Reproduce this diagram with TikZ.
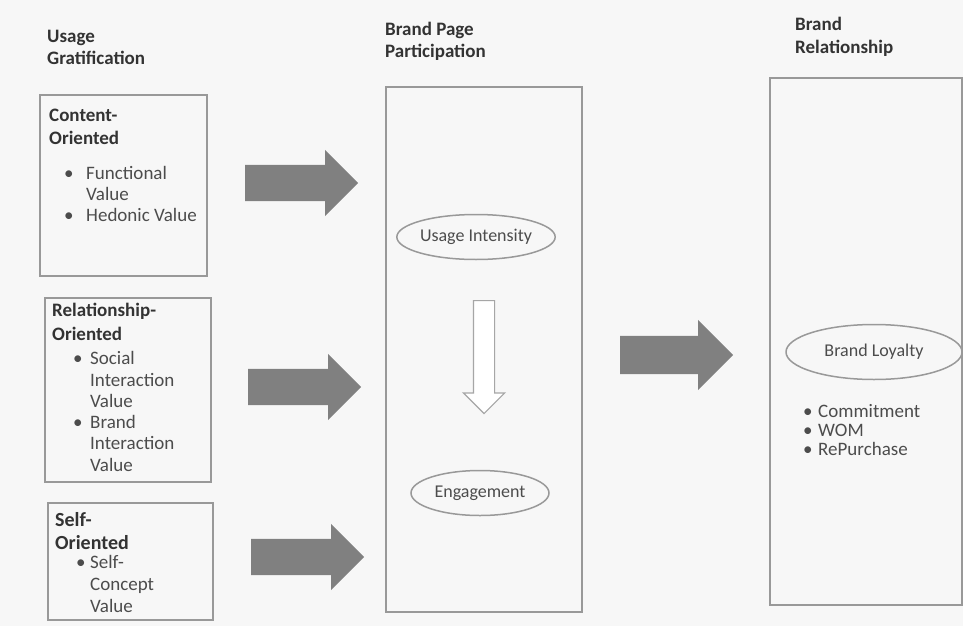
\documentclass[tikz,border=0pt]{standalone}
\usepackage{fontspec}
\setmainfont{Carlito}
\usetikzlibrary{shapes.geometric,shapes.arrows}

\begin{document}
\begin{tikzpicture}
[every node/.style={inner sep=0pt},
 title/.style={anchor=base west, font=\bfseries\fontsize{19}{22}\selectfont, text=black!80},
 head/.style={anchor=base west, font=\bfseries\fontsize{19}{22}\selectfont, text=black!80},
 body/.style={anchor=base west, font=\fontsize{19}{23}\selectfont, text=black!70},
 frame/.style={rectangle, draw=black!40, line width=1.5pt},
 oval/.style={ellipse, draw=black!40, line width=1.5pt, font=\fontsize{18}{22}\selectfont, text=black!70},
 bigarrow/.style={single arrow, anchor=tail, fill=black!50, inner xsep=0pt, inner ysep=18pt, single arrow head extend=15pt, single arrow head indent=0pt, minimum height=113pt},
 hollowarrow/.style={single arrow, anchor=tail, draw=black!35, fill=white, line width=1.2pt, inner xsep=10pt, inner ysep=0pt, single arrow head extend=10pt, single arrow head indent=0pt, minimum height=113pt, shape border rotate=270}]
\fill [black!3] (0pt, 0pt) rectangle (963pt, -626pt);
\useasboundingbox (0pt, 0pt) rectangle (963pt, -626pt);
% column titles
\node (t1a) [title] at (47pt, -43pt) {Usage};
\node (t1b) [title] at (47pt, -64pt) {Gratification};
\node (t2a) [title] at (385pt, -36pt) {Brand Page};
\node (t2b) [title] at (385pt, -58pt) {Participation};
\node (t3a) [title] at (795pt, -31pt) {Brand};
\node (t3b) [title] at (795pt, -53pt) {Relationship};
% frames
\node (content) [frame, minimum width=167pt, minimum height=181pt] at (123.5pt, -185.5pt) {};
\node (relation) [frame, minimum width=166pt, minimum height=184pt] at (128pt, -390pt) {};
\node (self) [frame, minimum width=165pt, minimum height=117pt] at (130.5pt, -561.5pt) {};
\node (page) [frame, minimum width=196pt, minimum height=525pt] at (484pt, -349.5pt) {};
\node (brand) [frame, minimum width=192pt, minimum height=527pt] at (866pt, -341.5pt) {};
% content oriented
\node (c1) [head] at (49pt, -121pt) {Content-};
\node (c2) [head] at (49pt, -144pt) {Oriented};
\node (cb1) [body] at (64pt, -179pt) {•};
\node (cf1) [body] at (86pt, -179pt) {Functional};
\node (cf2) [body] at (86pt, -200pt) {Value};
\node (cb2) [body] at (64pt, -221pt) {•};
\node (ch) [body] at (86pt, -221pt) {Hedonic Value};
% relationship oriented
\node (r1) [head] at (52pt, -316pt) {Relationship-};
\node (r2) [head] at (52pt, -340pt) {Oriented};
\node (rb1) [body] at (73pt, -364pt) {•};
\node (rs1) [body] at (90pt, -364pt) {Social};
\node (rs2) [body] at (90pt, -386pt) {Interaction};
\node (rs3) [body] at (90pt, -407pt) {Value};
\node (rb2) [body] at (73pt, -428pt) {•};
\node (ri1) [body] at (90pt, -428pt) {Brand};
\node (ri2) [body] at (90pt, -449pt) {Interaction};
\node (ri3) [body] at (90pt, -471pt) {Value};
% self oriented
\node (s1) [head, font=\bfseries\fontsize{20}{24}\selectfont] at (55pt, -526pt) {Self-};
\node (s2) [head, font=\bfseries\fontsize{20}{24}\selectfont] at (55pt, -549pt) {Oriented};
\node (sb1) [body] at (76pt, -568pt) {•};
\node (sc1) [body] at (90pt, -568pt) {Self-};
\node (sc2) [body] at (90pt, -590pt) {Concept};
\node (sc3) [body] at (90pt, -612pt) {Value};
% brand page participation
\node (usage) [oval, minimum width=138pt, minimum height=45pt] at (476pt, -237pt) {Usage Intensity};
\node (engage) [oval, minimum width=138pt, minimum height=45pt] at (480pt, -493pt) {Engagement};
\node (down) [hollowarrow] at (484pt, -300pt) {};
% brand relationship
\node (loyal) [oval, minimum width=176pt, minimum height=55pt] at (874pt, -352pt) {Brand Loyalty};
\node (lb1) [body] at (803pt, -417pt) {•};
\node (l1) [body] at (818pt, -417pt) {Commitment};
\node (lb2) [body] at (803pt, -436pt) {•};
\node (l2) [body] at (818pt, -436pt) {WOM};
\node (lb3) [body] at (803pt, -455pt) {•};
\node (l3) [body] at (818pt, -455pt) {RePurchase};
% block arrows
\node (a1) [bigarrow] at (245pt, -183pt) {};
\node (a2) [bigarrow] at (248pt, -387pt) {};
\node (a3) [bigarrow] at (251pt, -557pt) {};
\node (a4) [bigarrow, inner ysep=19pt, single arrow head extend=16pt] at (620pt, -355pt) {};
\end{tikzpicture}
\end{document}
